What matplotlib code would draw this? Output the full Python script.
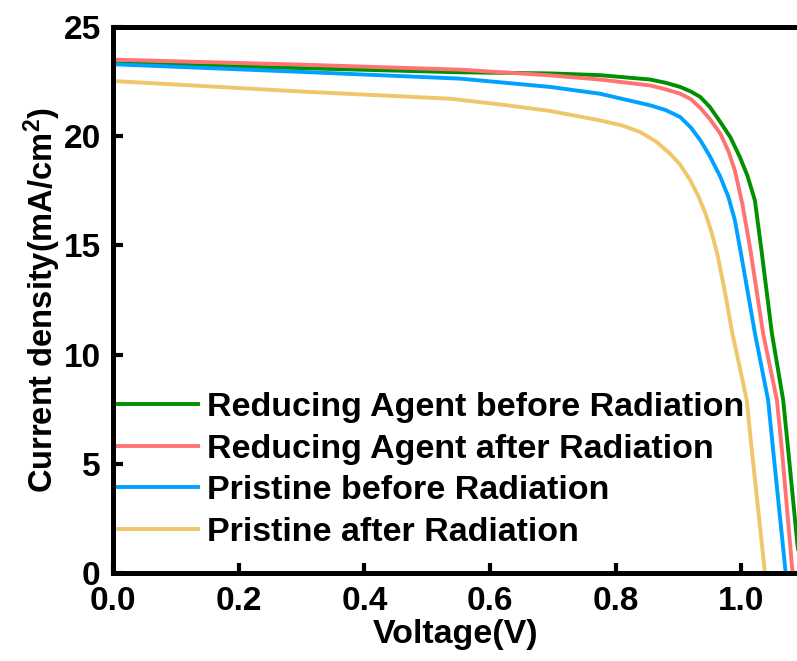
import matplotlib.pyplot as plt

plt.rcParams['font.family'] = ['Liberation Sans', 'DejaVu Sans']
plt.rcParams['font.weight'] = 'bold'
plt.rcParams['mathtext.fontset'] = 'custom'
plt.rcParams['mathtext.rm'] = 'Liberation Sans:bold'
plt.rcParams['mathtext.it'] = 'Liberation Sans:bold'
plt.rcParams['mathtext.bf'] = 'Liberation Sans:bold'

# J-V data (V in volts, J in mA/cm2)
v_ra_before = [0.0, 0.10, 0.30, 0.553, 0.696, 0.775, 0.855, 0.88, 0.903, 0.92,
               0.935, 0.95, 0.967, 0.983, 0.998, 1.01, 1.022, 1.033, 1.049,
               1.067, 1.075, 1.089, 1.095]
j_ra_before = [23.35, 23.28, 23.12, 22.93, 22.88, 22.8, 22.6, 22.45, 22.26, 22.05,
               21.8, 21.35, 20.65, 19.95, 19.05, 18.2, 17.06, 14.65, 10.98,
               7.92, 5.63, 1.51, 0.0]

v_ra_after = [0.0, 0.30, 0.553, 0.696, 0.775, 0.855, 0.88, 0.903, 0.92, 0.935,
              0.95, 0.967, 0.98, 0.99, 1.002, 1.014, 1.035, 1.057, 1.065, 1.082]
j_ra_after = [23.51, 23.28, 23.05, 22.79, 22.6, 22.33, 22.15, 21.95, 21.7, 21.3,
              20.8, 20.12, 19.3, 18.44, 16.9, 14.94, 10.98, 7.92, 5.63, 0.0]

v_pr_before = [0.0, 0.30, 0.553, 0.696, 0.775, 0.855, 0.88, 0.903, 0.92, 0.935,
               0.95, 0.967, 0.98, 0.99, 1.000, 1.022, 1.043, 1.051, 1.071]
j_pr_before = [23.3, 22.95, 22.64, 22.26, 21.95, 21.42, 21.2, 20.88, 20.4, 19.82,
               19.1, 18.14, 17.2, 16.16, 14.6, 10.98, 7.92, 5.63, 0.0]

v_pr_after = [0.0, 0.30, 0.537, 0.616, 0.696, 0.775, 0.81, 0.839, 0.865, 0.887,
              0.903, 0.919, 0.932, 0.943, 0.953, 0.962, 0.974, 0.986, 0.998,
              1.009, 1.017, 1.038]
j_pr_after = [22.53, 22.05, 21.72, 21.46, 21.16, 20.73, 20.5, 20.2, 19.75, 19.2,
              18.7, 17.99, 17.25, 16.48, 15.6, 14.63, 12.9, 10.98, 9.4,
              7.92, 5.63, 0.0]

labels = ['Reducing Agent before Radiation', 'Reducing Agent after Radiation',
          'Pristine before Radiation', 'Pristine after Radiation']
colors = ['#009000', '#FF7373', '#00A2FF', '#EFC76A']

fig = plt.figure(figsize=(7.97, 6.61), dpi=100)
ax = fig.add_axes([0.142, 0.133, 0.858, 0.826])

series = [(v_ra_before, j_ra_before), (v_ra_after, j_ra_after),
          (v_pr_before, j_pr_before), (v_pr_after, j_pr_after)]
for (v, j), lab, c in zip(series, labels, colors):
    ax.plot(v, j, color=c, lw=2.8, label=lab, solid_joinstyle='round')

ax.set_xlim(0, 1.089)
ax.set_ylim(0, 25)
ax.set_xticks([0.0, 0.2, 0.4, 0.6, 0.8, 1.0])
ax.set_yticks([0, 5, 10, 15, 20, 25])
ax.set_xticklabels(['0.0', '0.2', '0.4', '0.6', '0.8', '1.0'])

for s in ['left', 'bottom', 'top']:
    ax.spines[s].set_linewidth(3.6)
ax.spines['right'].set_visible(False)

ax.tick_params(direction='in', length=7, width=3, labelsize=24, pad=9)
for t in ax.get_xticklabels() + ax.get_yticklabels():
    t.set_fontweight('bold')

ax.set_xlabel('Voltage(V)', fontsize=24.5, fontweight='bold', labelpad=2)
ax.set_ylabel('Current density(mA/cm$^{2}$)', fontsize=23.5, fontweight='bold', labelpad=0)

ax.legend(loc='lower left', bbox_to_anchor=(-0.037, -0.01), frameon=False,
          handlelength=2.35, handletextpad=0.25, labelspacing=0.31,
          prop={'weight': 'bold', 'size': 24.5})

fig.savefig('out.png', dpi=100)
